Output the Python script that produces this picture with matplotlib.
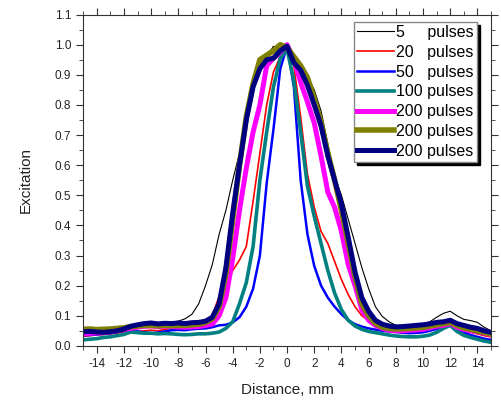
import numpy as np
import matplotlib.pyplot as plt
from matplotlib.ticker import MultipleLocator

plt.rcParams['font.family'] = ['Liberation Sans', 'DejaVu Sans']
plt.rcParams['axes.unicode_minus'] = False

# Distance grid, mm
distance = np.arange(-15, 15.5, 0.5)

# Excitation values (one value per 0.5 mm)
exc_5 = [0.048, 0.050, 0.052, 0.053, 0.055, 0.056, 0.060, 0.066, 0.070, 0.074,
         0.078, 0.076, 0.075, 0.078, 0.082, 0.090, 0.105, 0.14, 0.20, 0.27,
         0.37, 0.45, 0.55, 0.64, 0.74, 0.85, 0.92, 0.96, 0.995, 0.97,
         0.99, 0.96, 0.93, 0.895, 0.85, 0.78, 0.67, 0.56, 0.50, 0.42,
         0.34, 0.26, 0.19, 0.13, 0.098, 0.080, 0.068, 0.065, 0.066, 0.068,
         0.072, 0.080, 0.095, 0.108, 0.115, 0.100, 0.088, 0.084, 0.078, 0.062,
         0.050]
exc_20 = [0.032, 0.034, 0.036, 0.038, 0.040, 0.042, 0.046, 0.050, 0.048, 0.050,
          0.052, 0.050, 0.055, 0.058, 0.060, 0.062, 0.064, 0.068, 0.076, 0.10,
          0.165, 0.21, 0.25, 0.285, 0.33, 0.48, 0.64, 0.80, 0.91, 0.96,
          0.99, 0.93, 0.76, 0.57, 0.46, 0.38, 0.34, 0.28, 0.22, 0.17,
          0.13, 0.10, 0.085, 0.075, 0.065, 0.058, 0.048, 0.042, 0.042, 0.044,
          0.046, 0.050, 0.058, 0.064, 0.070, 0.058, 0.050, 0.045, 0.040, 0.034,
          0.030]
exc_50 = [0.035, 0.036, 0.038, 0.040, 0.042, 0.046, 0.050, 0.052, 0.048, 0.045,
          0.042, 0.044, 0.048, 0.052, 0.053, 0.052, 0.055, 0.057, 0.058, 0.062,
          0.068, 0.070, 0.078, 0.095, 0.13, 0.19, 0.30, 0.54, 0.72, 0.92,
          0.995, 0.86, 0.55, 0.37, 0.265, 0.20, 0.16, 0.13, 0.105, 0.085,
          0.072, 0.064, 0.058, 0.054, 0.050, 0.048, 0.046, 0.044, 0.042, 0.043,
          0.045, 0.050, 0.056, 0.062, 0.068, 0.055, 0.045, 0.036, 0.030, 0.024,
          0.020]
exc_100 = [0.020, 0.022, 0.024, 0.028, 0.030, 0.034, 0.038, 0.046, 0.044, 0.042,
           0.042, 0.040, 0.041, 0.040, 0.038, 0.037, 0.038, 0.040, 0.040, 0.042,
           0.046, 0.058, 0.080, 0.14, 0.21, 0.33, 0.55, 0.71, 0.86, 0.955,
           0.985, 0.88, 0.71, 0.53, 0.43, 0.34, 0.25, 0.175, 0.12, 0.085,
           0.066, 0.055, 0.048, 0.044, 0.040, 0.036, 0.033, 0.031, 0.030, 0.030,
           0.032, 0.036, 0.045, 0.058, 0.068, 0.048, 0.035, 0.028, 0.022, 0.016,
           0.012]
exc_200a = [0.040, 0.042, 0.043, 0.044, 0.046, 0.050, 0.055, 0.058, 0.062, 0.065,
            0.066, 0.064, 0.065, 0.064, 0.063, 0.062, 0.063, 0.064, 0.068, 0.072,
            0.10, 0.16, 0.29, 0.45, 0.59, 0.71, 0.80, 0.93, 0.955, 0.975,
            1.0, 0.95, 0.875, 0.81, 0.74, 0.63, 0.51, 0.46, 0.38, 0.27,
            0.20, 0.12, 0.085, 0.068, 0.058, 0.052, 0.050, 0.050, 0.052, 0.053,
            0.055, 0.060, 0.065, 0.068, 0.074, 0.062, 0.055, 0.050, 0.048, 0.042,
            0.038]
exc_200b = [0.055, 0.056, 0.054, 0.055, 0.056, 0.058, 0.060, 0.064, 0.066, 0.068,
            0.068, 0.067, 0.068, 0.067, 0.068, 0.068, 0.070, 0.072, 0.078, 0.09,
            0.13, 0.24, 0.42, 0.60, 0.76, 0.87, 0.95, 0.965, 0.98, 1.0,
            0.99, 0.96, 0.93, 0.89, 0.82, 0.74, 0.64, 0.55, 0.45, 0.34,
            0.23, 0.14, 0.10, 0.075, 0.062, 0.058, 0.056, 0.057, 0.058, 0.060,
            0.062, 0.066, 0.070, 0.074, 0.078, 0.068, 0.060, 0.055, 0.050, 0.045,
            0.040]
exc_200c = [0.047, 0.048, 0.046, 0.045, 0.047, 0.050, 0.056, 0.065, 0.070, 0.074,
            0.076, 0.073, 0.075, 0.074, 0.076, 0.074, 0.077, 0.078, 0.082, 0.095,
            0.14, 0.26, 0.44, 0.60, 0.75, 0.86, 0.92, 0.95, 0.955, 0.98,
            0.995, 0.94, 0.915, 0.865, 0.80, 0.73, 0.63, 0.55, 0.47, 0.36,
            0.245, 0.16, 0.115, 0.085, 0.072, 0.066, 0.063, 0.064, 0.066, 0.068,
            0.070, 0.073, 0.078, 0.080, 0.085, 0.074, 0.068, 0.062, 0.058, 0.050,
            0.045]

labels = ['5     pulses', '20   pulses', '50   pulses', '100 pulses',
          '200 pulses', '200 pulses', '200 pulses']
series = [exc_5, exc_20, exc_50, exc_100, exc_200a, exc_200b, exc_200c]
colors = ['black', '#ff0000', '#0000ff', '#008080', '#ff00ff', '#808000', '#000080']
widths = [0.8, 1.2, 1.8, 2.6, 3.6, 4.0, 3.6]

fig = plt.figure(figsize=(5.01, 4.05), dpi=100)
ax = fig.add_axes([0.166, 0.146, 0.814, 0.818])

for y, lab, c, lw in zip(series, labels, colors, widths):
    ax.plot(distance, y, color=c, lw=lw, label=lab)

ax.set_xlim(-15, 15)
ax.set_ylim(0, 1.1)
ax.set_xticks(np.arange(-14, 15, 2))
ax.xaxis.set_minor_locator(MultipleLocator(1))
ax.yaxis.set_major_locator(MultipleLocator(0.1))
ax.yaxis.set_minor_locator(MultipleLocator(0.05))
ax.yaxis.set_major_formatter(plt.FuncFormatter(lambda v, p: f'{v:.1f}'))
ax.tick_params(which='both', direction='out', top=True, right=True,
               labelsize=8.5, color='#333333', labelcolor='#222222')
ax.tick_params(which='major', length=5)
ax.tick_params(which='minor', length=3)
ax.tick_params(axis='x', pad=4)
for s in ax.spines.values():
    s.set_color('#333333')

ax.set_xlabel('Distance, mm', fontsize=11, color='#222222', labelpad=9)
ax.set_ylabel('Excitation', fontsize=11, color='#222222', labelpad=16)

leg = ax.legend(loc='upper right', bbox_to_anchor=(0.966, 0.978), borderaxespad=0,
                fontsize=11.5, handlelength=2.3, handletextpad=0.15,
                labelspacing=0.3, borderpad=0.2, fancybox=False, framealpha=1,
                edgecolor='#888888', shadow={'color': 'black', 'alpha': 1})

plt.savefig('out.png', dpi=100)
